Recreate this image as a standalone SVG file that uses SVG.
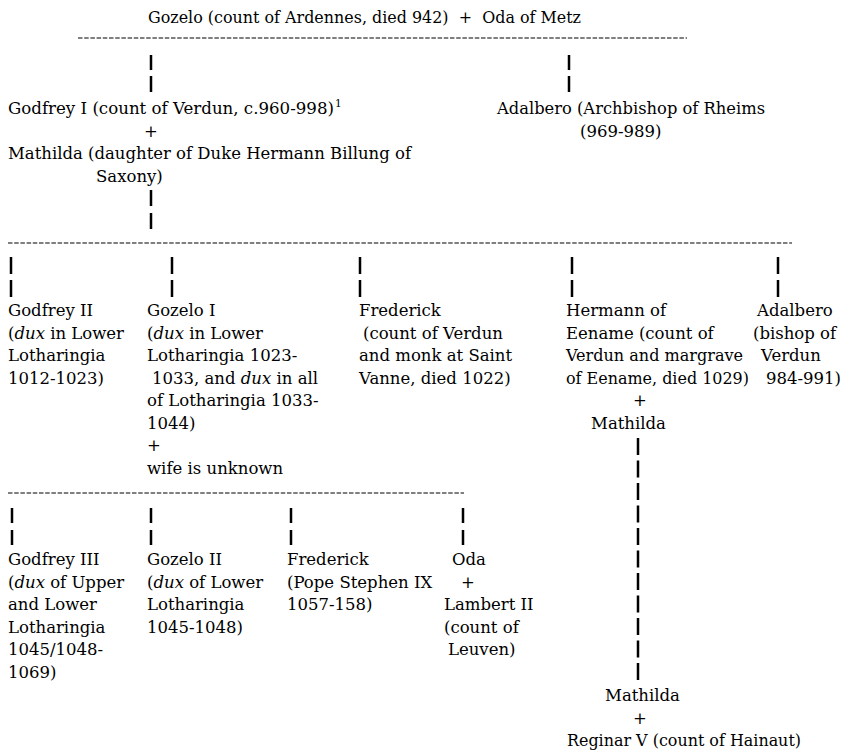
<svg xmlns="http://www.w3.org/2000/svg" width="845" height="753" viewBox="0 0 845 753">
<style>
text{font-family:"DejaVu Serif","Liberation Serif",serif;font-size:16.5px;fill:#000}
.i{font-style:italic}
.sup{font-size:10.5px}
.dash{stroke:#000;stroke-width:1.2;stroke-dasharray:4.5 1.7;fill:none}
.bar{stroke:#000;stroke-width:2.5;fill:none}
</style>
<rect width="845" height="753" fill="#fff"/>
<g id="connectors">
<line class="dash" x1="78" y1="38" x2="687" y2="38"/>
<path class="bar" d="M151 55V70M151 76V92M569 55V70M569 76V92"/>
<path class="bar" d="M151 190V206M151 213V229"/>
<line class="dash" x1="8" y1="243" x2="792" y2="243"/>
<path class="bar" d="M11 257V274M11 280V297M172 257V274M172 280V297M360 257V274M360 280V297M572 257V274M572 280V297M778 257V274M778 280V297"/>
<path class="bar" d="M638 438V455M638 460.5V477.5M638 483V500M638 505.5V522.5M638 528V545M638 550.5V567.5M638 573V590M638 595.5V612.5M638 618V635M638 640.5V657.5M638 663V680"/>
<line class="dash" x1="8" y1="493" x2="464" y2="493"/>
<path class="bar" d="M12 508V523M12 530V545M151 508V523M151 530V545M291 508V523M291 530V545M463 508V523M463 530V545"/>
</g>
<g id="gozelo"><text x="148" y="23" xml:space="preserve" textLength="433" lengthAdjust="spacingAndGlyphs">Gozelo (count of Ardennes, died 942)  +  Oda of Metz</text></g>
<g id="godfrey1">
<text x="8" y="114" textLength="326" lengthAdjust="spacingAndGlyphs">Godfrey I (count of Verdun, c.960-998)</text>
<text class="sup" x="335" y="107">1</text>
<text x="151" y="136.5" text-anchor="middle">+</text>
<text x="8" y="159" textLength="403" lengthAdjust="spacingAndGlyphs">Mathilda (daughter of Duke Hermann Billung of</text>
<text x="96" y="181.5">Saxony)</text>
</g>
<g id="adalbero-rheims">
<text x="497" y="114" textLength="268" lengthAdjust="spacingAndGlyphs">Adalbero (Archbishop of Rheims</text>
<text x="580" y="136.5">(969-989)</text>
</g>
<g id="godfrey2">
<text x="8" y="316">Godfrey II</text>
<text x="8" y="338.5">(<tspan class="i">dux</tspan> in Lower</text>
<text x="8" y="361">Lotharingia</text>
<text x="8" y="383.5">1012-1023)</text>
</g>
<g id="gozelo1">
<text x="147" y="316">Gozelo I</text>
<text x="147" y="338.5">(<tspan class="i">dux</tspan> in Lower</text>
<text x="147" y="361">Lotharingia 1023-</text>
<text x="152" y="383.5">1033, and <tspan class="i">dux</tspan> in all</text>
<text x="147" y="406">of Lotharingia 1033-</text>
<text x="147" y="428.5">1044)</text>
<text x="147" y="451">+</text>
<text x="147" y="473.5">wife is unknown</text>
</g>
<g id="frederick1">
<text x="359" y="316">Frederick</text>
<text x="363" y="338.5">(count of Verdun</text>
<text x="359" y="361">and monk at Saint</text>
<text x="359" y="383.5">Vanne, died 1022)</text>
</g>
<g id="hermann">
<text x="566" y="316">Hermann of</text>
<text x="566" y="338.5">Eename (count of</text>
<text x="566" y="361" textLength="177" lengthAdjust="spacingAndGlyphs">Verdun and margrave</text>
<text x="566" y="383.5" textLength="183" lengthAdjust="spacingAndGlyphs">of Eename, died 1029)</text>
<text x="640" y="406" text-anchor="middle">+</text>
<text x="591" y="428.5">Mathilda</text>
</g>
<g id="adalbero-verdun">
<text x="757" y="316">Adalbero</text>
<text x="753" y="338.5">(bishop of</text>
<text x="761" y="361">Verdun</text>
<text x="766" y="383.5">984-991)</text>
</g>
<g id="godfrey3">
<text x="8" y="565">Godfrey III</text>
<text x="8" y="587.5">(<tspan class="i">dux</tspan> of Upper</text>
<text x="8" y="610">and Lower</text>
<text x="8" y="632.5">Lotharingia</text>
<text x="8" y="655">1045/1048-</text>
<text x="8" y="677.5">1069)</text>
</g>
<g id="gozelo2">
<text x="147" y="565">Gozelo II</text>
<text x="147" y="587.5">(<tspan class="i">dux</tspan> of Lower</text>
<text x="147" y="610">Lotharingia</text>
<text x="147" y="632.5">1045-1048)</text>
</g>
<g id="frederick2">
<text x="287" y="565">Frederick</text>
<text x="287" y="587.5">(Pope Stephen IX</text>
<text x="287" y="610">1057-158)</text>
</g>
<g id="oda">
<text x="452" y="565">Oda</text>
<text x="468" y="587.5" text-anchor="middle">+</text>
<text x="444" y="610">Lambert II</text>
<text x="444" y="632.5">(count of</text>
<text x="448" y="655">Leuven)</text>
</g>
<g id="mathilda2">
<text x="605" y="701">Mathilda</text>
<text x="640" y="723.5" text-anchor="middle">+</text>
<text x="567" y="746" textLength="234" lengthAdjust="spacingAndGlyphs">Reginar V (count of Hainaut)</text>
</g>
</svg>
